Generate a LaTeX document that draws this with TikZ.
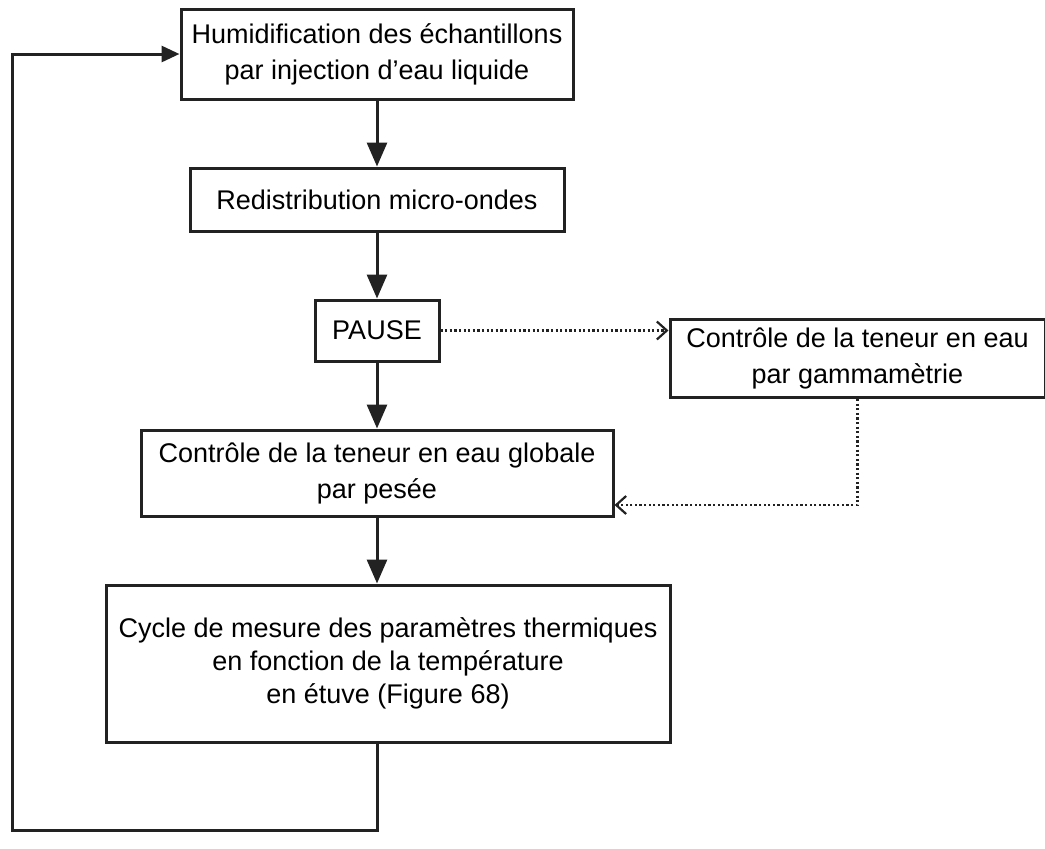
\documentclass[tikz,border=0pt]{standalone}
\usepackage{fontspec}
\setmainfont{Liberation Sans}
\usetikzlibrary{arrows.meta,positioning}
\definecolor{ink}{RGB}{34,34,34}
\tikzset{blk/.style={draw=ink,line width=1.5pt,minimum height=#1,align=center,inner sep=0pt,font=\fontsize{13.5}{18}\selectfont},blk/.default=33pt,flow/.style={-{Triangle[length=12pt,width=10pt]},line width=1.5pt,draw=ink},back/.style={-{Triangle[length=9pt,width=8pt]},line width=1.5pt,draw=ink},probe/.style={-{Straight Barb[length=5pt,width=9pt]},dash pattern=on 1.1pt off 1.2pt,line width=1.1pt,draw=ink}}

\begin{document}
\begin{tikzpicture}[node distance=33pt]
\useasboundingbox (0,0) rectangle (522.5pt,-424pt);
\node[blk=45pt,minimum width=196pt] (hum) at (188.5pt,-27pt) {Humidification des échantillons\\par injection d'eau liquide};
\node[blk=31.5pt,minimum width=187pt,below=of hum] (redis) {Redistribution micro-ondes};
\node[blk=30.5pt,minimum width=62pt,below=of redis] (pause) {PAUSE};
\node[blk=39pt,minimum width=187.5pt,right=114pt of pause,yshift=-14pt] (gamma) {Contrôle de la teneur en eau\\par gammamètrie};
\node[blk=43pt,minimum width=236pt,below=of pause] (pesee) {Contrôle de la teneur en eau globale\\par pesée};
\node[blk=78.5pt,minimum width=282pt,below=of pesee,xshift=5.5pt,font=\fontsize{13.5}{16.5}\selectfont] (cycle) {Cycle de mesure des paramètres thermiques\\en fonction de la température\\en étuve (Figure 68)};
\coordinate (lp) at (6pt,-415pt);
\draw[flow] (hum)--(redis);\draw[flow] (redis)--(pause);\draw[flow] (pause)--(pesee);\draw[flow] (pesee)--(cycle.north -| pesee);
\draw[back] (cycle.south -| pesee)|-(lp)|-(hum.west);
\draw[probe] (pause)--(pause -| gamma.west);\draw[probe] (gamma.south)|-([yshift=-16pt]pesee.east);
\end{tikzpicture}
\end{document}
